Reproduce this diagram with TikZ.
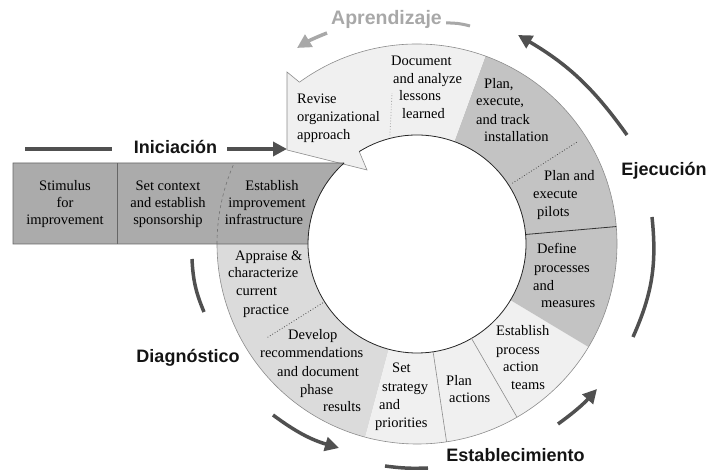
\documentclass[tikz,border=0pt]{standalone}
\usepackage{fontspec}
\setmainfont{Liberation Serif}
\newfontfamily\phasefont{Liberation Sans}
\usetikzlibrary{arrows.meta}

\definecolor{inifill}{HTML}{ABABAB}
\definecolor{execfill}{HTML}{C3C3C3}
\definecolor{diagfill}{HTML}{DBDBDB}
\definecolor{lightfill}{HTML}{F0F0F0}
\definecolor{arrowgray}{HTML}{505050}
\definecolor{aprgray}{HTML}{A8A8A8}
\definecolor{rimgray}{HTML}{8C8C8C}

% annular sector of the cycle ring, from angle #2 to angle #3
\newcommand\ringsector[3]{%
  \fill[#1] ([shift={(#2:\ro)}]C) arc[start angle=#2,end angle=#3,radius=\ro]
    -- ([shift={(#3:\ri)}]C) arc[start angle=#3,end angle=#2,radius=\ri] -- cycle;}

\begin{document}
\begin{tikzpicture}[x=1pt,y=1pt,
  seg/.style={font=\fontsize{14.5}{17}\selectfont, inner sep=0pt, anchor=base west},
  segc/.style={seg, anchor=base},
  phase/.style={font=\phasefont\bfseries\fontsize{18}{20}\selectfont, inner sep=0pt, anchor=base, text=black!92},
  cyc/.style={arrowgray, line width=3.5pt},
  cycarrow/.style={cyc, -{Triangle[length=14pt,width=14pt]}},
  rimline/.style={draw=rimgray, line width=0.6pt},
  bandline/.style={draw=black!60, line width=0.8pt},
  innerline/.style={draw=black!85, line width=0.8pt},
  dotline/.style={draw=black!70, line width=0.8pt, dotted},
]
\useasboundingbox (0,0) rectangle (709,470);
\coordinate (C) at (417,226);
\def\ro{200}
\def\ri{109}

% ---- ring sectors ----
\ringsector{diagfill}{180}{255}
\ringsector{lightfill}{255}{329}
\ringsector{execfill}{-31}{70}

% learning sector with its arrow-like tip
\fill[lightfill] (287,398) -- ([shift={(126:\ro)}]C) arc[start angle=126,end angle=70,radius=\ro]
  -- ([shift={(70:\ri)}]C) arc[start angle=70,end angle=122,radius=\ri]
  -- (367,300) -- (287,320) -- cycle;

% initiating band
\fill[inifill] (13,226) -- (13,307) -- ([shift={(132:\ri)}]C)
  arc[start angle=132,end angle=180,radius=\ri] -- cycle;

% ---- outlines ----
\draw[rimline] ([shift={(126:\ro)}]C) arc[start angle=126,end angle=-180,radius=\ro];
\draw[rimline] ([shift={(126:\ro)}]C) -- (287,398) -- (287,320) -- (367,300) -- ([shift={(122:\ri)}]C);
\draw[bandline] ([shift={(132:\ri)}]C) -- (13,307) -- (13,226) -- ([shift={(180:\ri)}]C);
\draw[bandline] (117,226) -- (117,307);
\draw[draw=black!55, line width=0.6pt, dashed] ([shift={(180:\ro)}]C) arc[start angle=180,end angle=156.1,radius=\ro];
\draw[innerline] ([shift={(122:\ri)}]C) arc[start angle=122,end angle=-228,radius=\ri];

% ---- sector dividers ----
\draw[draw=black!80, line width=0.8pt] ([shift={(5:\ri)}]C) -- ([shift={(5:\ro)}]C);
\draw[rimline] ([shift={(-60:\ri)}]C) -- ([shift={(-60:\ro)}]C);
\draw[rimline] ([shift={(-81.5:\ri)}]C) -- ([shift={(-81.5:\ro)}]C);
\draw[dotline] ([shift={(32.5:113)}]C) -- ([shift={(32.5:190)}]C);
\draw[dotline] ([shift={(-148:111)}]C) -- ([shift={(-148:178)}]C);
\draw[dotline, draw=black!35] ([shift={(104:112)}]C) -- ([shift={(99.4:153)}]C);

% ---- texts of the steps ----
\node[segc] (sti1) at (65,279) {Stimulus};
\node[segc] (sti2) at (65,262) {for};
\node[segc] (sti3) at (65,245) {improvement};

\node[segc] (ctx1) at (168,279) {Set context};
\node[segc] (ctx2) at (168,262) {and establish};
\node[segc] (ctx3) at (168,245) {sponsorship};

\node[segc] (inf1) at (272,279) {Establish};
\node[segc] (inf2) at (267,262) {improvement};
\node[segc] (inf3) at (264,245) {infrastructure};

\node[seg] (rev1) at (297,366) {Revise};
\node[seg] (rev2) at (297,348) {organizational};
\node[seg] (rev3) at (297,330) {approach};

\node[seg] (doc1) at (391,404) {Document};
\node[seg] (doc2) at (393,386) {and analyze};
\node[seg] (doc3) at (399,369) {lessons};
\node[seg] (doc4) at (402,351) {learned};

\node[seg] (ins1) at (484,381) {Plan,};
\node[seg] (ins2) at (476,364) {execute,};
\node[seg] (ins3) at (476,345) {and track};
\node[seg] (ins4) at (484,328) {installation};

\node[seg] (pil1) at (544,289) {Plan and};
\node[seg] (pil2) at (533,271) {execute};
\node[seg] (pil3) at (537,253) {pilots};

\node[seg] (def1) at (537,216) {Define};
\node[seg] (def2) at (534,197) {processes};
\node[seg] (def3) at (533,179) {and};
\node[seg] (def4) at (541,162) {measures};

\node[seg] (pat1) at (496,134) {Establish};
\node[seg] (pat2) at (496,115) {process};
\node[seg] (pat3) at (503,98) {action};
\node[seg] (pat4) at (511,80) {teams};

\node[seg] (act1) at (446,84) {Plan};
\node[seg] (act2) at (449,67) {actions};

\node[seg] (str1) at (392,97) {Set};
\node[seg] (str2) at (382,78) {strategy};
\node[seg] (str3) at (379,60) {and};
\node[seg] (str4) at (375,42) {priorities};

\node[seg] (dev1) at (288,130) {Develop};
\node[seg] (dev2) at (260,112) {recommendations};
\node[seg] (dev3) at (277,93) {and document};
\node[seg] (dev4) at (300,75) {phase};
\node[seg] (dev5) at (323,58) {results};

\node[seg] (app1) at (235,209) {Appraise \&};
\node[seg] (app2) at (228,192) {characterize};
\node[seg] (app3) at (236,174) {current};
\node[seg] (app4) at (243,155) {practice};

% ---- phase labels ----
\node[phase] (ini) at (175.5,316) {Iniciación};
\node[phase, text=aprgray, font=\phasefont\bfseries\fontsize{19.5}{21}\selectfont] (apr) at (386.5,445) {Aprendizaje};
\node[phase] (eje) at (664,294) {Ejecución};
\node[phase] (dia) at (188,107) {Diagnóstico};
\node[phase] (est) at (515.5,8) {Establecimiento};

% ---- cycle arrows ----
\coordinate (iniL1) at (25,321);   \coordinate (iniL2) at (112,321);
\coordinate (iniA1) at (227,321);  \coordinate (iniA2) at (287,321);
\coordinate (aprL1) at (446,447);  \coordinate (aprL2) at (470,444);
\coordinate (aprA1) at (327,437);  \coordinate (aprA2) at (297,422);
\coordinate (ejeA1) at (627,335);  \coordinate (ejeA2) at (518,435);
\coordinate (ejeL1) at (652,253);  \coordinate (ejeL2) at (633,133);
\coordinate (estA1) at (558,46);   \coordinate (estA2) at (597,81);
\coordinate (estL1) at (385,4);    \coordinate (estL2) at (428,2);
\coordinate (diaA1) at (273,55);   \coordinate (diaA2) at (339,22);
\coordinate (diaL1) at (192,211);  \coordinate (diaL2) at (204,158);

\draw[cyc] (iniL1) -- (iniL2);
\draw[cycarrow] (iniA1) -- (iniA2);
\draw[cyc, aprgray, line width=3pt] (aprL1) to[bend left=8] (aprL2);
\draw[cycarrow, aprgray] (aprA1) to[bend right=5] (aprA2);
\draw[cycarrow] (ejeA1) to[bend right=12] (ejeA2);
\draw[cyc] (ejeL1) to[bend left=15] (ejeL2);
\draw[cycarrow] (estA1) to[bend right=6] (estA2);
\draw[cyc] (estL1) to[bend right=5] (estL2);
\draw[cycarrow] (diaA1) to[bend right=10] (diaA2);
\draw[cyc] (diaL1) to[bend right=10] (diaL2);
\end{tikzpicture}
\end{document}
